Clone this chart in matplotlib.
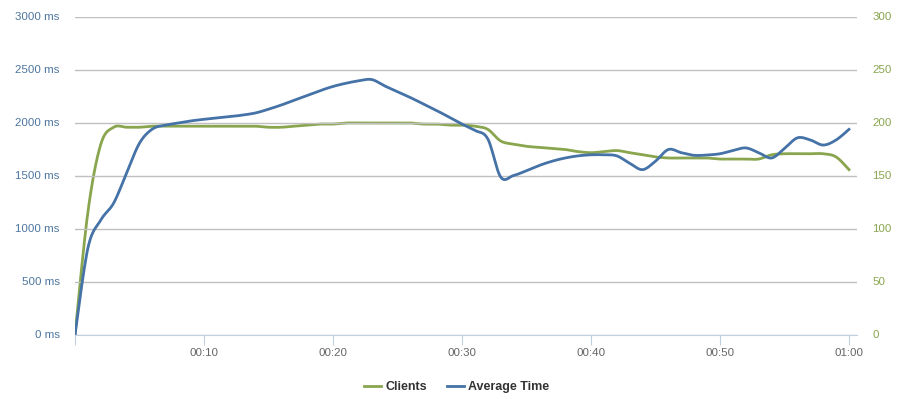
import numpy as np
import matplotlib.pyplot as plt
from matplotlib.lines import Line2D

plt.rcParams['font.family'] = ['Liberation Sans', 'DejaVu Sans']

# seconds since start
seconds = list(range(0, 61))

# number of clients (right axis)
clients = [
    0, 116, 180, 196, 196, 196, 197, 197, 197, 197,
    197, 197, 197, 197, 197, 196, 196, 197, 198, 199,
    199, 200, 200, 200, 200, 200, 200, 199, 199, 198,
    198, 197, 194, 183, 180, 178, 177, 176, 175, 173,
    172, 173, 174, 172, 170, 168, 167, 167, 167, 167,
    166, 166, 166, 166, 170, 171, 171, 171, 171, 168, 156
]

# average response time, ms (left axis)
avg_time = [
    0, 820, 1085, 1245, 1528, 1810, 1943, 1980, 2000, 2020,
    2035, 2048, 2060, 2075, 2095, 2130, 2170, 2215, 2260, 2305,
    2345, 2375, 2398, 2410, 2350, 2295, 2240, 2180, 2120, 2055,
    1990, 1930, 1850, 1490, 1505, 1550, 1600, 1640, 1670, 1690,
    1700, 1700, 1690, 1620, 1560, 1640, 1750, 1720, 1695, 1698,
    1710, 1740, 1765, 1720, 1670, 1760, 1860, 1840, 1792, 1840, 1940
]

ms_ticks = [0, 500, 1000, 1500, 2000, 2500, 3000]
client_ticks = [0, 50, 100, 150, 200, 250, 300]
time_ticks = [0, 10, 20, 30, 40, 50, 60]
time_labels = ['', '00:10', '00:20', '00:30', '00:40', '00:50', '01:00']

green = '#89A54E'
blue = '#4572A7'


def spline(x, y, steps=12):
    # catmull-rom curve through the points, only for drawing (like a "spline" series)
    x = np.asarray(x, float)
    y = np.asarray(y, float)
    px = np.concatenate([[x[0]], x, [x[-1]]])
    py = np.concatenate([[y[0]], y, [y[-1]]])
    xs, ys = [], []
    t = np.linspace(0, 1, steps, endpoint=False)
    for i in range(1, len(px) - 2):
        for p, out in ((px, xs), (py, ys)):
            p0, p1, p2, p3 = p[i - 1], p[i], p[i + 1], p[i + 2]
            out.extend(0.5 * (2 * p1 + (p2 - p0) * t
                              + (2 * p0 - 5 * p1 + 4 * p2 - p3) * t ** 2
                              + (3 * p1 - p0 - 3 * p2 + p3) * t ** 3))
    xs.append(x[-1])
    ys.append(y[-1])
    return xs, ys


fig = plt.figure(figsize=(9.19, 3.99), dpi=100)
ax = fig.add_axes([75 / 919, 64 / 399, 782 / 919, 318 / 399])
ax2 = ax.twinx()

# blue series should sit on top of the green one
ax.set_zorder(ax2.get_zorder() + 1)
ax.patch.set_visible(False)

ax2.plot(*spline(seconds, clients), color=green, linewidth=2, solid_joinstyle='round')
ax.plot(*spline(seconds, avg_time), color=blue, linewidth=2, solid_joinstyle='round')

ax.set_xlim(0, 60.62)
ax.set_ylim(0, 3000)
ax2.set_ylim(0, 300)

ax.set_yticks(ms_ticks)
ax.set_yticklabels([f'{v} ms' for v in ms_ticks])
ax2.set_yticks(client_ticks)
ax2.set_yticklabels([str(v) for v in client_ticks])
ax.set_xticks(time_ticks)
ax.set_xticklabels(time_labels)

ax.grid(axis='y', color='#c0c0c0', linewidth=1)
ax.set_axisbelow(True)

for a in (ax, ax2):
    for side in ('top', 'left', 'right'):
        a.spines[side].set_visible(False)
    a.spines['bottom'].set_color('#c0d0e0')
ax2.spines['bottom'].set_visible(False)

ax.tick_params(axis='y', length=0, pad=11, labelsize=8.25, labelcolor='#4d759e')
ax2.tick_params(axis='y', length=0, pad=11, labelsize=8.25, labelcolor=green)
ax.tick_params(axis='x', length=7, color='#c0d0e0', pad=2, labelsize=8.25, labelcolor='#666666')
for lbl in ax.get_yticklabels() + ax2.get_yticklabels():
    lbl.set_va('center')

handles = [Line2D([], [], color=green, linewidth=2),
           Line2D([], [], color=blue, linewidth=2)]
fig.legend(handles, ['Clients', 'Average Time'], loc='center',
           bbox_to_anchor=(457 / 919, 1 - 387 / 399), ncol=2, frameon=False,
           prop={'weight': 'bold', 'size': 9}, labelcolor='#333333',
           handlelength=1.3, columnspacing=1.6, handletextpad=0.4)

fig.savefig('out.png', dpi=100)
